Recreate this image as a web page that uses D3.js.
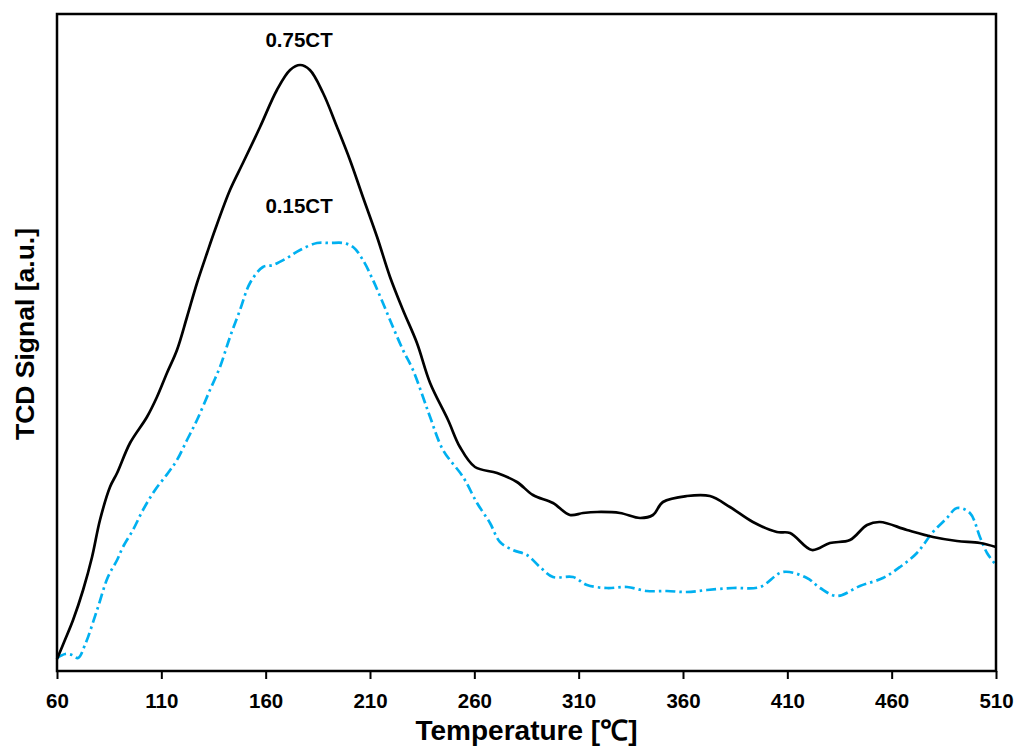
<!DOCTYPE html>
<html>
<head>
<meta charset="utf-8">
<script src="https://cdn.jsdelivr.net/npm/d3@7"></script>
<style>
  body { margin: 0; background: #fff; }
  svg text { font-family: Arial, "Liberation Sans", sans-serif; font-weight: bold; fill: #000; }
</style>
</head>
<body>
<div id="chart"></div>
<script>
// temperature (°C) / TCD signal (a.u.)
const temp75 = [60, 63.8, 67.7, 72.5, 76.8, 80.6, 85.4, 88.8, 95, 103.1, 107.9, 112.7, 117.5, 122.3, 127.1, 131.9, 135.7,
  142.9, 149.1, 157.3, 165.4, 171.7, 176.5, 181.2, 187.5, 194.2, 200.4, 206.6, 213.4, 219.6, 225.8, 232.5, 238.8,
  247.4, 253.1, 260.3, 270.9, 280.4, 288.1, 297.7, 305.8, 312.1, 318.8, 329.8, 339.4, 345.6, 350.4, 361.9, 372.9,
  382.5, 393.5, 405, 411.3, 421.8, 430.4, 440, 448.2, 454.4, 467.3, 479.8, 491.3, 502.3, 510];
const signal75 = [12, 31, 51, 81, 114, 151, 184, 198, 228, 254, 274, 298, 321, 354, 388, 418, 441,
  481, 508, 544, 581, 601, 606, 601, 578, 544, 511, 474, 434, 394, 361, 328, 288,
  251, 224, 204, 198, 189, 176, 168, 156, 158, 159, 158, 153, 156, 169, 175, 175,
  164, 149, 139, 138, 121, 128, 131, 146, 149, 141, 134, 130, 128, 124];

const temp15 = [60, 64, 67.2, 70.1, 73.4, 79.2, 84.4, 88.8, 91.6, 96.4, 101.2, 107, 113.2, 117.5, 122.3, 127.1, 133.3,
  138.1, 142.9, 147.7, 152.5, 158.7, 163.5, 170.2, 176.5, 184.6, 190.8, 197.1, 201.9, 206.6, 211.4, 216.2, 221,
  225.8, 230.6, 235.4, 238.8, 245, 254.6, 261.3, 267.5, 272.3, 278.5, 285.2, 291.5, 297.7, 307.3, 314, 323.6,
  333.2, 342.7, 352.3, 361.9, 371.5, 384, 396.9, 407.9, 419.4, 425.7, 433.8, 444.8, 455.8, 464, 472.1, 479.8,
  486.5, 491.3, 497.5, 502.3, 505.7, 510];
const signal15 = [13, 17, 16, 13, 26, 61, 94, 111, 124, 141, 161, 181, 198, 211, 231, 251, 281,
  304, 334, 361, 388, 404, 406, 413, 421, 428, 428, 428, 424, 411, 391, 368, 344,
  321, 301, 274, 254, 221, 194, 168, 148, 129, 121, 116, 104, 94, 94, 86, 83,
  84, 80, 80, 79, 81, 83, 84, 99, 93, 83, 75, 85, 93, 104, 118, 139,
  153, 163, 158, 134, 118, 106];

const xTicks = [60, 110, 160, 210, 260, 310, 360, 410, 460, 510];
const seriesNames = ['0.75CT', '0.15CT'];

const W = 1018, H = 752;
const margin = { top: 14, right: 22, bottom: 81, left: 57 };
const width = W - margin.left - margin.right;
const height = H - margin.top - margin.bottom;

const svg = d3.select('#chart').append('svg')
  .attr('width', W)
  .attr('height', H);

const g = svg.append('g')
  .attr('transform', `translate(${margin.left}, ${margin.top})`);

const x = d3.scaleLinear().domain([60, 510]).range([0, width]);
const y = d3.scaleLinear().domain([0, 657]).range([height, 0]);

// lines
const line = d3.line()
  .x(d => x(d[0]))
  .y(d => y(d[1]))
  .curve(d3.curveCatmullRom.alpha(0.5));

g.append('path')
  .datum(d3.zip(temp15, signal15))
  .attr('d', line)
  .attr('fill', 'none')
  .attr('stroke', '#00B0F0')
  .attr('stroke-width', 2.7)
  .attr('stroke-dasharray', '10,4,2.5,4');

g.append('path')
  .datum(d3.zip(temp75, signal75))
  .attr('d', line)
  .attr('fill', 'none')
  .attr('stroke', '#000')
  .attr('stroke-width', 2.7)
  .attr('stroke-linejoin', 'round');

// frame
g.append('rect')
  .attr('width', width)
  .attr('height', height)
  .attr('fill', 'none')
  .attr('stroke', '#000')
  .attr('stroke-width', 2.5);

// x axis
const xAxis = g.append('g')
  .attr('transform', `translate(0, ${height})`)
  .call(d3.axisBottom(x).tickValues(xTicks).tickSize(8).tickPadding(14).tickFormat(d3.format('d')));
xAxis.select('.domain').remove();
xAxis.selectAll('line').attr('stroke', '#000').attr('stroke-width', 2);
xAxis.selectAll('text').attr('font-size', 20.5).attr('font-family', 'Arial, "Liberation Sans", sans-serif').attr('font-weight', 'bold');

// axis titles
svg.append('text')
  .attr('x', margin.left + width / 2)
  .attr('y', 740)
  .attr('text-anchor', 'middle')
  .attr('font-size', 28)
  .text('Temperature [℃]');

svg.append('text')
  .attr('transform', `translate(34, ${(228 + 440) / 2}) rotate(-90)`)
  .attr('text-anchor', 'middle')
  .attr('font-size', 26.5)
  .text('TCD Signal [a.u.]');

// series labels
g.append('text')
  .attr('x', x(176))
  .attr('y', y(624))
  .attr('text-anchor', 'middle')
  .attr('font-size', 20.5)
  .text(seriesNames[0]);

g.append('text')
  .attr('x', x(176))
  .attr('y', y(458))
  .attr('text-anchor', 'middle')
  .attr('font-size', 20.5)
  .text(seriesNames[1]);
</script>
</body>
</html>
